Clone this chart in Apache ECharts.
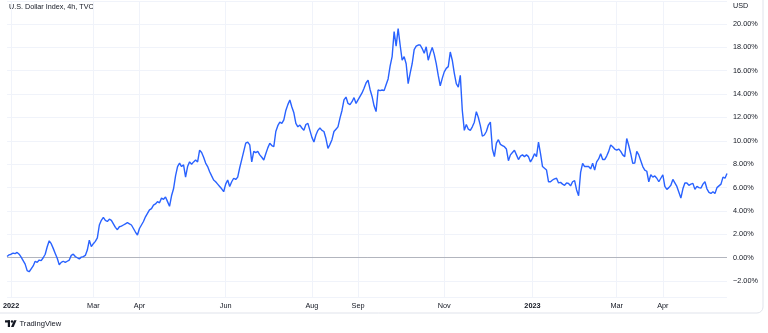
<!DOCTYPE html>
<html>
<head>
<meta charset="utf-8">
<script src="https://cdn.jsdelivr.net/npm/echarts@6/dist/echarts.min.js"></script>
<style>
html,body{margin:0;padding:0;background:#ffffff;}
#chart{width:768px;height:333px;}
</style>
</head>
<body>
<div id="chart"></div>
<script>
// Percent change of the U.S. Dollar Index, one value per trading day
const values = [
  0.1, 0.25, 0.3, 0.4, 0.35, 0.45, 0.3, 0.05, -0.25, -0.55,
  -1.1, -1.2, -0.95, -0.7, -0.3, -0.4, -0.2, -0.25, 0.0, 0.3,
  0.94, 1.45, 1.2, 0.8, 0.37, -0.05, -0.6, -0.4, -0.3, -0.4,
  -0.3, -0.2, 0.2, 0.3, 0.1, 0.0, -0.1, 0.05, 0.1, 0.2,
  0.66, 1.5, 0.95, 1.2, 1.4, 1.7, 2.8, 3.2, 3.45, 3.2,
  3.1, 3.3, 3.2, 2.9, 2.6, 2.4, 2.65, 2.7, 2.8, 2.9,
  3.0, 2.9, 2.8, 2.5, 2.2, 1.94, 2.5, 2.8, 3.1, 3.5,
  3.8, 4.1, 4.2, 4.5, 4.6, 4.8, 4.7, 5.1, 5.0, 5.2,
  4.8, 4.4, 5.3, 5.9, 7.0, 7.8, 8.1, 7.8, 7.95, 6.9,
  7.8, 8.2, 8.0, 8.2, 8.36, 8.2, 9.2, 9.0, 8.6, 8.1,
  7.8, 7.36, 7.0, 6.65, 6.5, 6.3, 6.1, 5.9, 5.65, 6.3,
  6.65, 6.1, 6.5, 6.8, 6.7, 6.9, 7.7, 8.4, 9.1, 9.8,
  9.9, 9.65, 8.2, 9.1, 9.0, 9.1, 8.8, 8.6, 8.36, 8.9,
  9.4, 9.8, 9.6, 9.5, 10.8, 11.3, 11.6, 11.5, 11.8, 12.6,
  13.1, 13.5, 12.9, 12.4, 11.5, 11.2, 11.35, 11.1, 10.9, 11.4,
  11.5, 10.9, 10.3, 9.9, 10.5, 10.9, 11.1, 10.9, 10.8, 10.2,
  9.35, 9.7, 10.1, 10.8, 11.0, 11.2, 11.95, 12.6, 13.5, 13.75,
  13.2, 13.1, 13.35, 13.7, 13.2, 13.5, 13.8, 14.1, 14.5, 14.95,
  15.2, 14.4, 13.8, 13.0, 12.5, 14.35, 14.3, 14.35, 14.3, 14.8,
  15.3, 16.4, 17.2, 19.35, 18.1, 19.6, 18.2, 16.9, 17.2, 16.6,
  14.9, 15.8, 16.6, 17.8, 18.1, 18.2, 18.2, 17.9, 17.5, 18.05,
  16.9, 17.5, 18.0, 17.4, 16.6, 15.6, 14.7, 15.35, 15.9, 16.2,
  16.35, 17.6, 16.9, 15.8, 14.9, 14.6, 15.6, 12.6, 10.9, 11.4,
  11.0, 10.9, 11.2, 11.6, 12.5, 12.0, 11.3, 10.4, 10.5, 10.8,
  11.35, 11.6, 9.3, 8.65, 9.8, 10.1, 9.7, 9.6, 9.5, 9.3,
  8.3, 8.8, 9.0, 9.2, 8.8, 8.4, 8.7, 8.8, 8.65, 8.8,
  8.65, 8.2, 8.5, 8.9, 8.65, 9.9, 8.9, 7.8, 7.65, 7.5,
  6.5, 6.5, 6.65, 6.75, 6.8, 6.4, 6.45, 6.3, 6.2, 6.4,
  6.35, 6.15, 6.5, 6.6, 5.8, 5.3, 7.3, 8.08, 7.8, 7.8,
  7.8, 7.6, 8.08, 7.5, 8.2, 8.45, 8.9, 8.4, 8.4, 8.7,
  9.1, 9.65, 9.5, 9.3, 9.2, 9.3, 9.1, 8.8, 8.65, 10.2,
  9.6, 8.9, 8.08, 8.1, 9.1, 8.8, 8.3, 7.8, 7.5, 7.4,
  6.5, 7.1, 6.9, 7.0, 6.8, 6.5, 6.8, 7.1, 6.1, 5.85,
  6.0, 6.2, 6.7, 6.4, 6.1, 5.6, 5.1, 5.9, 6.4, 6.4,
  6.2, 6.3, 6.36, 5.85, 6.1, 6.0, 5.95, 6.3, 6.5, 5.9,
  5.6, 5.5, 5.65, 5.5, 6.0, 6.15, 6.3, 6.9, 6.8, 7.2
];
const startDate = [2021, 11, 30];   // first bar (UTC y, m0, d)
const dayStep = 1;                  // trading days per point
const shownMonths = ['2022-01','2022-03','2022-04','2022-06','2022-08','2022-09','2022-11','2023-01','2023-03','2023-04'];
const monthNames = ['Jan','Feb','Mar','Apr','May','Jun','Jul','Aug','Sep','Oct','Nov','Dec'];
const titleText = 'U.S. Dollar Index, 4h, TVC';
const currencyText = 'USD';
const brandText = 'TradingView';

function buildDates(n) {
  const out = [];
  const d = new Date(Date.UTC(startDate[0], startDate[1], startDate[2]));
  let wd = 0;
  while (out.length < n) {
    const day = d.getUTCDay();
    if (day !== 0 && day !== 6) {
      if (wd % dayStep === 0) out.push(d.toISOString().slice(0, 10));
      wd++;
    }
    d.setUTCDate(d.getUTCDate() + 1);
  }
  return out;
}
const dates = buildDates(values.length);

function isMonthStart(idx) {
  if (idx <= 0) return false;
  const m = dates[idx].slice(0, 7);
  return m !== dates[idx - 1].slice(0, 7) && shownMonths.indexOf(m) >= 0;
}

const FONT = '"Liberation Sans", Arial, sans-serif';
const TXT = '#131722';
const GRID = '#f0f3fa';

const chart = echarts.init(document.getElementById('chart'), null, {renderer: 'canvas'});
chart.setOption({
  animation: false,
  backgroundColor: '#ffffff',
  textStyle: {fontFamily: FONT},
  grid: {left: 5, right: 41, top: 1.2, bottom: 36, containLabel: false},
  xAxis: {
    type: 'category',
    data: dates,
    boundaryGap: false,
    axisLine: {show: false},
    axisTick: {show: false},
    axisLabel: {
      interval: (idx) => isMonthStart(idx),
      margin: 5,
      fontSize: 7.3,
      color: TXT,
      fontFamily: FONT,
      formatter: (value) => {
        const p = value.split('-');
        if (p[1] === '01') return '{y|' + p[0] + '}';
        return monthNames[parseInt(p[1], 10) - 1];
      },
      rich: {y: {fontWeight: 'bold', fontSize: 7.3, color: TXT, fontFamily: FONT}}
    },
    splitLine: {show: true, interval: (idx) => isMonthStart(idx), lineStyle: {color: GRID, width: 1}}
  },
  yAxis: {
    type: 'value',
    position: 'right',
    min: -3.36,
    max: 21.95,
    splitNumber: 12,
    axisLine: {show: false},
    axisTick: {show: false},
    axisLabel: {
      showMinLabel: false,
      showMaxLabel: false,
      margin: 6,
      fontSize: 7.3,
      color: TXT,
      fontFamily: FONT,
      formatter: (v) => (v < 0 ? '\u2212' + Math.abs(v).toFixed(2) : v.toFixed(2)) + '%'
    },
    splitLine: {show: true, lineStyle: {color: GRID, width: 1}}
  },
  series: [{
    type: 'line',
    data: values,
    showSymbol: false,
    lineStyle: {color: '#2962ff', width: 1.4},
    z: 3,
    markLine: {
      silent: true,
      symbol: 'none',
      label: {show: false},
      lineStyle: {color: '#b2b5be', type: 'solid', width: 1},
      data: [{yAxis: 0}],
      z: 1
    }
  }],
  graphic: [
    {type: 'rect', silent: true, shape: {x: -6, y: -6, width: 769, height: 319, r: 6},
     style: {fill: 'none', stroke: '#e0e3eb', lineWidth: 1}},
    {type: 'text', left: 9, top: 4, style: {text: titleText, font: '7.2px ' + FONT, fill: TXT}},
    {type: 'text', left: 733, top: 2.5, style: {text: currencyText, font: '7.2px ' + FONT, fill: TXT}},
    {type: 'rect', shape: {x: 5, y: 320.3, width: 5, height: 2.2}, style: {fill: TXT}},
    {type: 'rect', shape: {x: 7.8, y: 320.3, width: 2.2, height: 6.7}, style: {fill: TXT}},
    {type: 'circle', shape: {cx: 12, cy: 321.5, r: 1.2}, style: {fill: TXT}},
    {type: 'polygon', shape: {points: [[14, 320.3], [16.6, 320.3], [13.6, 327], [11, 327]]}, style: {fill: TXT}},
    {type: 'text', left: 19.5, top: 320, style: {text: brandText, font: '500 7.6px ' + FONT, fill: TXT}}
  ]
});
</script>
</body>
</html>
